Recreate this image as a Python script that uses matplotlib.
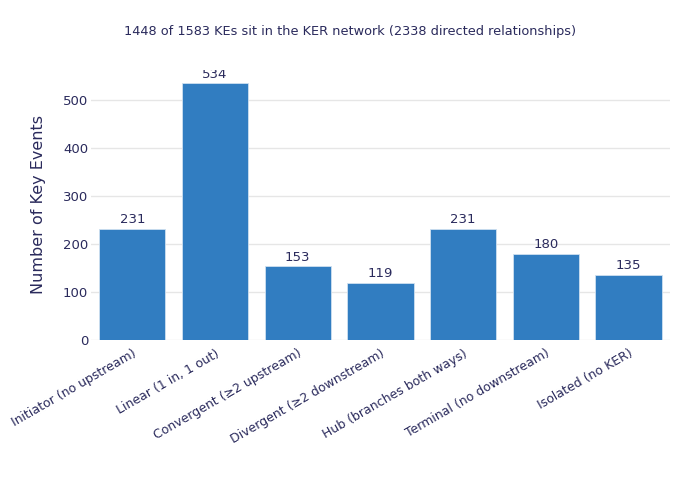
import matplotlib.pyplot as plt
import numpy as np

CATEGORIES = [
    "Initiator (no upstream)",
    "Linear (1 in, 1 out)",
    "Convergent (≥2 upstream)",
    "Divergent (≥2 downstream)",
    "Hub (branches both ways)",
    "Terminal (no downstream)",
    "Isolated (no KER)",
]
COUNTS = [231, 534, 153, 119, 231, 180, 135]
TITLE = "1448 of 1583 KEs sit in the KER network (2338 directed relationships)"

TEXT_COLOR = "#2a2a5c"
BAR_COLOR = "#317dc1"


def main() -> None:
    fig = plt.figure(figsize=(7, 4.8), dpi=100)
    ax = fig.add_axes([0.13, 0.2917, 0.827, 0.5625])

    x = np.arange(len(CATEGORIES))
    bars = ax.bar(x, COUNTS, width=0.8, color=BAR_COLOR, edgecolor="#cfe0f0", linewidth=0.6, zorder=3)
    for rect, val in zip(bars, COUNTS):
        ax.text(rect.get_x() + rect.get_width() / 2, val + 6, str(val),
                ha="center", va="bottom", fontsize=9.5, color=TEXT_COLOR, clip_on=True, zorder=4)

    ax.set_xlim(-0.5, len(CATEGORIES) - 0.5)
    ax.set_ylim(0, 562)
    ax.set_yticks([0, 100, 200, 300, 400, 500])
    ax.grid(axis="y", color="#e6e6e6", linewidth=1, zorder=0)
    ax.set_axisbelow(True)
    for spine in ax.spines.values():
        spine.set_visible(False)
    ax.tick_params(axis="both", length=0, colors=TEXT_COLOR)
    ax.tick_params(axis="y", pad=2, labelsize=9.5)
    ax.tick_params(axis="x", pad=5, labelsize=9)

    ax.set_xticks(x)
    ax.set_xticklabels(CATEGORIES, rotation=30, ha="right", rotation_mode="anchor")
    ax.set_ylabel("Number of Key Events", fontsize=11.5, color=TEXT_COLOR, labelpad=12)

    fig.text(0.5, 1 - 31 / 480, TITLE, ha="center", va="center", fontsize=9.3, color=TEXT_COLOR)

    fig.savefig("out.png", dpi=100)


if __name__ == "__main__":
    main()
